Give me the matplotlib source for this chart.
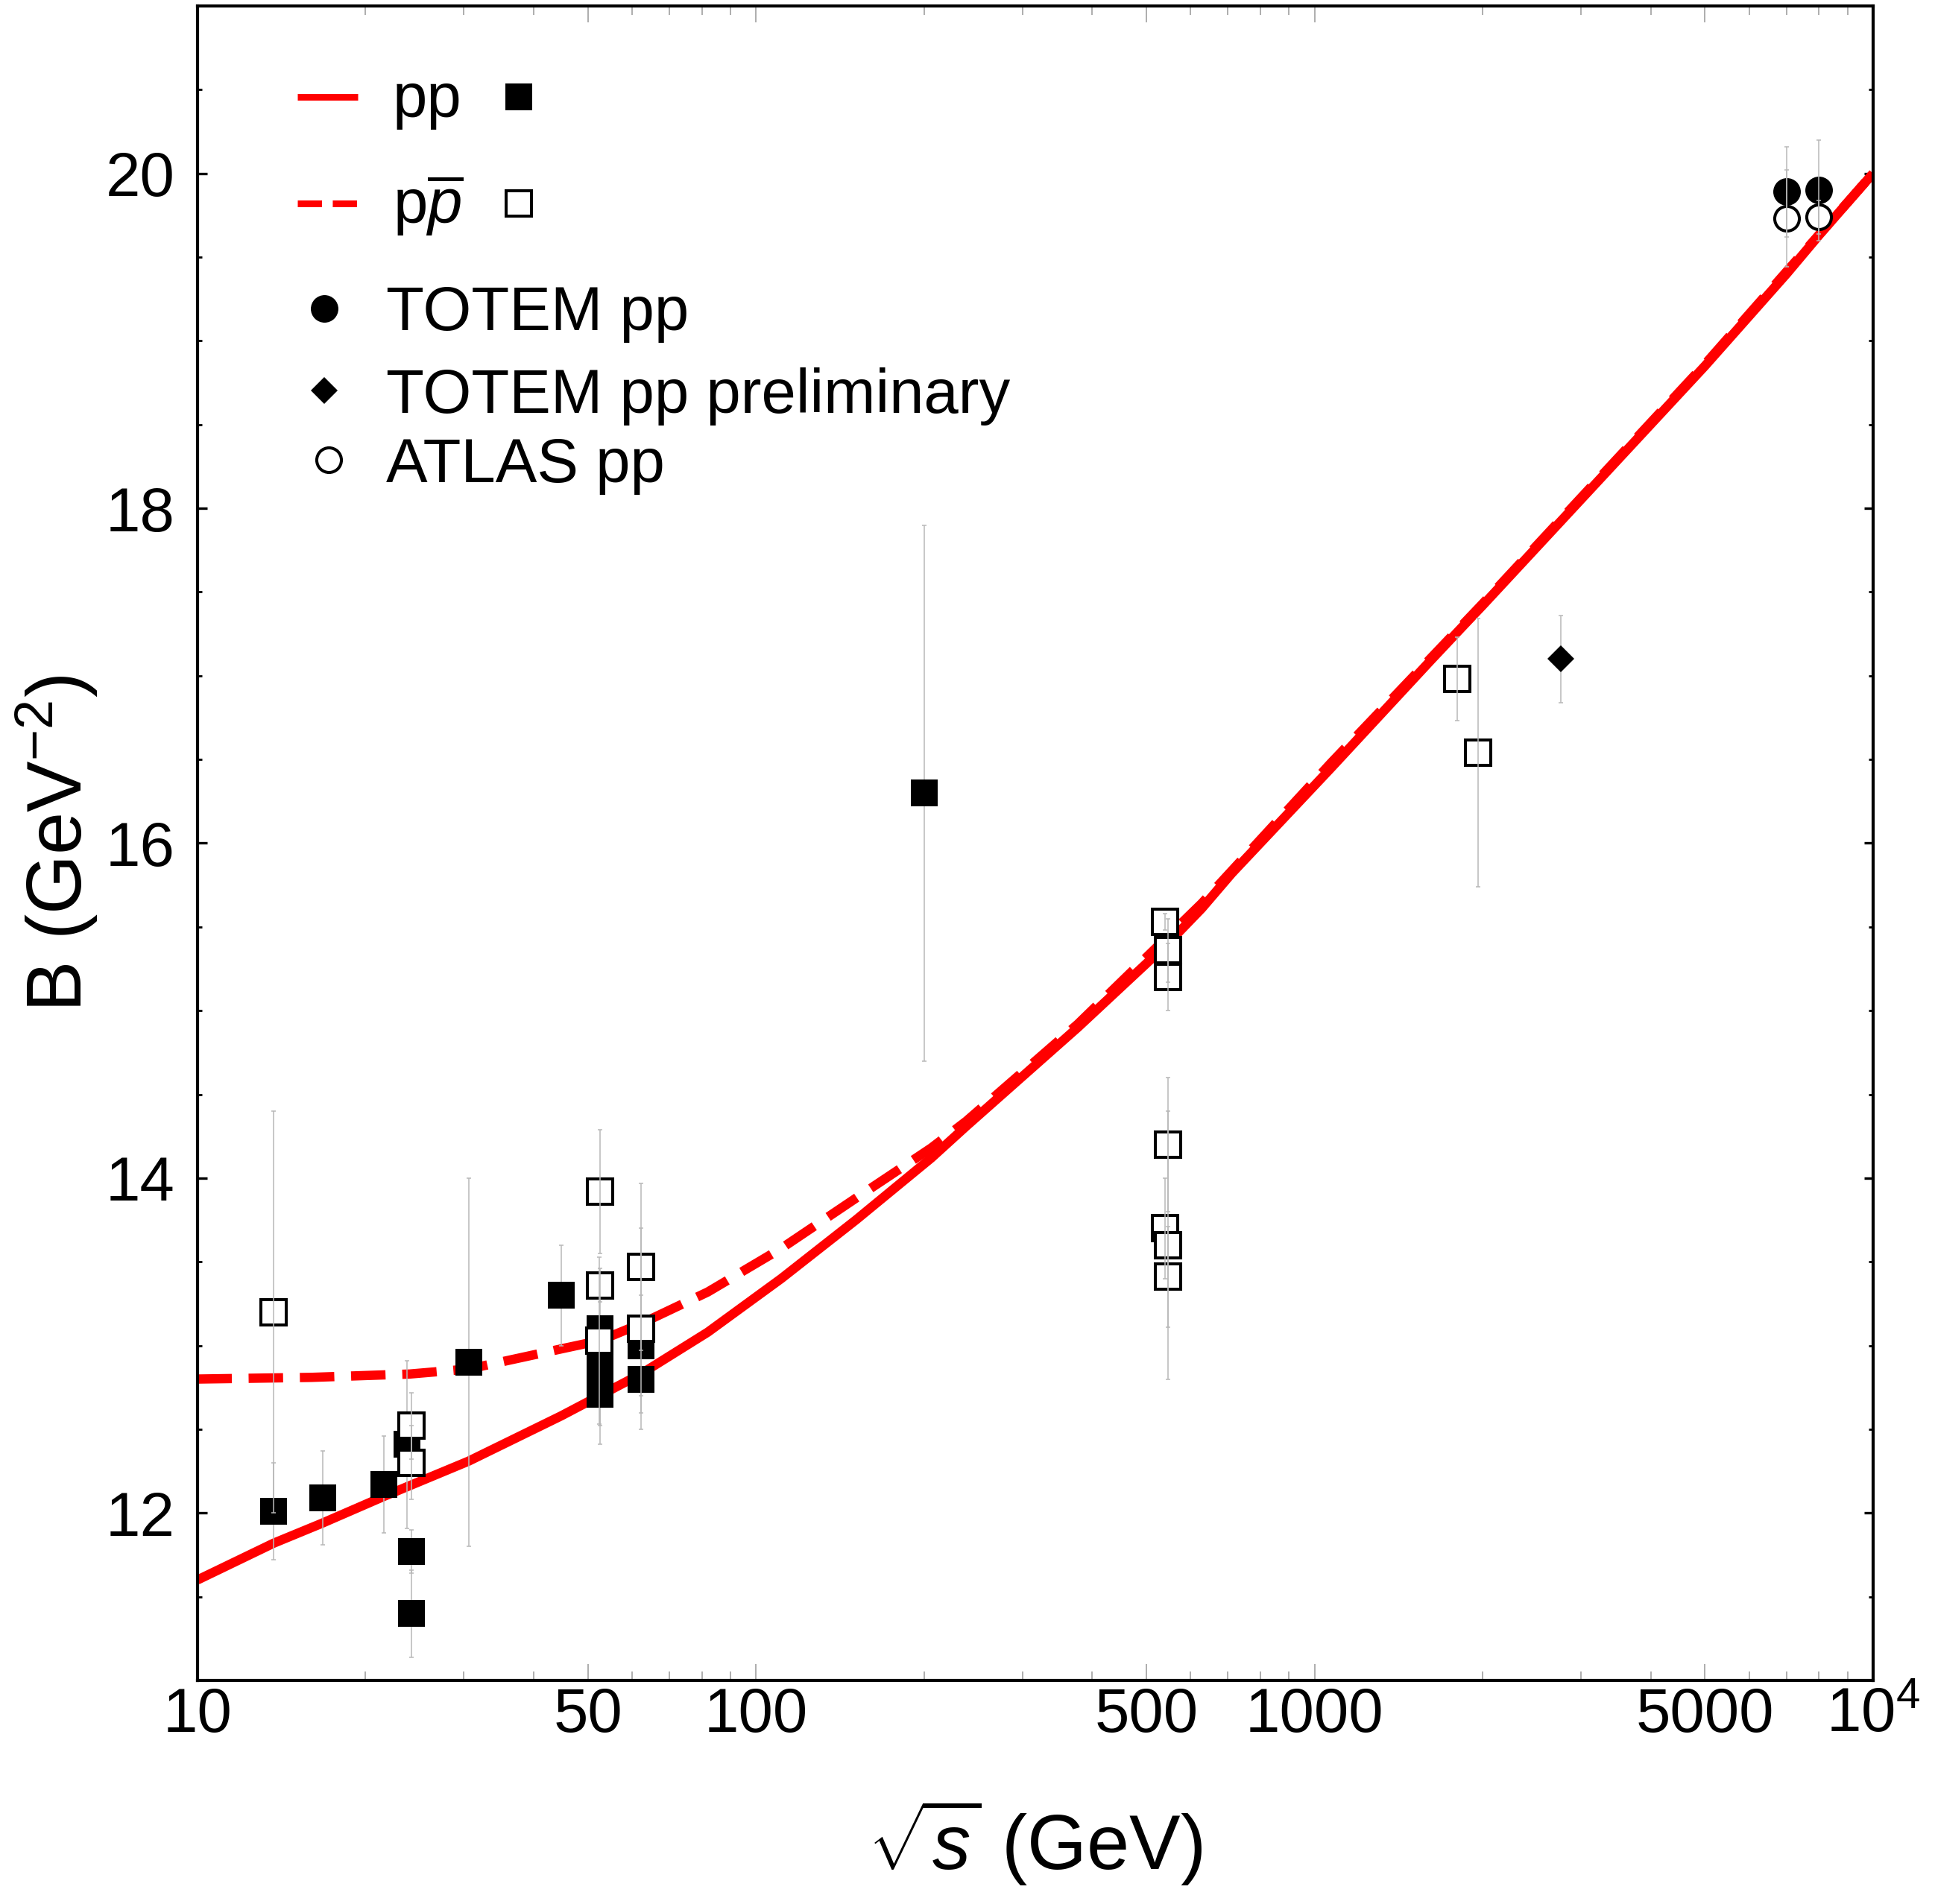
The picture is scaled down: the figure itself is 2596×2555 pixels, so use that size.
import matplotlib
matplotlib.use("Agg")
import matplotlib.pyplot as plt
from matplotlib.ticker import FixedLocator, NullFormatter

plt.rcParams['font.family'] = ['Liberation Sans', 'DejaVu Sans']
plt.rcParams['mathtext.fontset'] = 'custom'
plt.rcParams['mathtext.rm'] = 'Liberation Sans'
plt.rcParams['mathtext.it'] = 'Liberation Sans:italic'
plt.rcParams['mathtext.bf'] = 'Liberation Sans:bold'

# ---------------- data ----------------
# model curves
pp_curve_x = [10, 13.7, 16.75, 21.6, 30.6, 44.8, 62.2, 82, 111, 151, 206, 238, 377,
              546, 628, 711, 1071, 1613, 1861, 2000, 5000, 7000, 8000, 10000]
pp_curve_y = [11.60, 11.82, 11.94, 12.10, 12.31, 12.58, 12.83, 13.08, 13.40, 13.75,
              14.12, 14.31, 14.90, 15.40, 15.61, 15.82, 16.45, 17.09, 17.31, 17.42,
              18.85, 19.40, 19.63, 20.00]
ppbar_curve_x = [10, 16, 24, 30.6, 44.8, 52.6, 62.2, 82, 111, 151, 206, 238, 377,
                 628, 1071, 2000, 5000, 10000]
ppbar_curve_y = [12.80, 12.81, 12.83, 12.86, 12.98, 13.03, 13.13, 13.32, 13.58, 13.88,
                 14.18, 14.34, 14.92, 15.64, 16.48, 17.43, 18.86, 20.00]

# pp data (filled squares)
pp_x = [13.7, 16.75, 21.6, 23.7, 24.2, 24.2, 30.6, 44.8, 52.6, 52.6, 52.6, 52.6,
        62.2, 62.2, 200]
pp_y = [12.01, 12.09, 12.17, 12.41, 11.77, 11.40, 12.90, 13.30, 13.10, 12.93, 12.82,
        12.71, 13.00, 12.80, 16.30]
pp_err = [0.29, 0.28, 0.29, 0.50, 0.13, 0.26, 1.10, 0.30, 0.30, 0.20, 0.30, 0.30,
          0.30, 0.20, 1.60]

# ppbar data (open squares)
ppbar_x = [13.7, 24.2, 24.2, 52.6, 52.6, 52.4, 62.2, 62.2, 540, 546, 546, 546, 540,
           546, 546, 1800, 1960]
ppbar_y = [13.20, 12.52, 12.30, 13.92, 13.36, 13.03, 13.47, 13.10, 15.53, 15.36,
           15.20, 14.20, 13.70, 13.60, 13.41, 16.98, 16.54]
ppbar_err = [1.20, 0.20, 0.22, 0.37, 0.10, 0.50, 0.50, 0.60, 0.05, 0.19, 0.20, 0.40,
             0.30, 0.80, 0.30, 0.25, 0.80]

# TOTEM / ATLAS
totem_x = [7000, 8000]
totem_y = [19.89, 19.90]
totem_err = [0.27, 0.30]
totem_prel_x = [2760]
totem_prel_y = [17.10]
totem_prel_err = [0.26]
atlas_x = [7000, 8000]
atlas_y = [19.73, 19.74]
atlas_err = [0.29, 0.10]

x_ticks = [10, 50, 100, 500, 1000, 5000, 10000]
x_ticklabels = ['10', '50', '100', '500', '1000', '5000', r'$10^4$']
y_ticks = [12, 14, 16, 18, 20]

# ---------------- figure ----------------
fig = plt.figure(figsize=(25.96, 25.55), dpi=100)
ax = fig.add_axes([0.102, 0.1174, 0.866, 0.8795])
ax.set_xscale('log')
ax.set_xlim(10, 10000)
ax.set_ylim(11, 21)

red = '#ff0000'
ax.plot(ppbar_curve_x, ppbar_curve_y, color=red, lw=9, dashes=(3.7, 1.8),
        dash_capstyle='butt', zorder=2)
ax.plot(pp_curve_x, pp_curve_y, color=red, lw=9, solid_capstyle='butt', zorder=2.1)

ecol = '#b8b8b8'
ekw = dict(fmt='none', ecolor=ecol, elinewidth=1.1, capsize=2.5, capthick=1.1)

msq = 26.6
mop = 23.8
mew_o = 2.9

# pp filled squares
ax.errorbar(pp_x, pp_y, yerr=pp_err, zorder=3, **ekw)
ax.plot(pp_x, pp_y, ls='none', marker='s', ms=msq, mfc='black', mec='black', mew=0,
        zorder=4)
# ppbar open squares
ax.plot(ppbar_x, ppbar_y, ls='none', marker='s', ms=mop, mfc='white', mec='black',
        mew=mew_o, zorder=5)
ax.errorbar(ppbar_x, ppbar_y, yerr=ppbar_err, zorder=6, **ekw)

# TOTEM / ATLAS
ax.plot(totem_x, totem_y, ls='none', marker='o', ms=msq, mfc='black', mec='black',
        mew=0, zorder=4)
ax.plot(atlas_x, atlas_y, ls='none', marker='o', ms=mop, mfc='white', mec='black',
        mew=mew_o, zorder=5)
ax.errorbar(totem_x, totem_y, yerr=totem_err, zorder=6, **ekw)
ax.errorbar(atlas_x, atlas_y, yerr=atlas_err, zorder=6, **ekw)
ax.errorbar(totem_prel_x, totem_prel_y, yerr=totem_prel_err, zorder=3, **ekw)
ax.plot(totem_prel_x, totem_prel_y, ls='none', marker='D', ms=18.8, mfc='black',
        mec='black', mew=0, zorder=4)

# ---------------- axes styling ----------------
for sp in ax.spines.values():
    sp.set_linewidth(3)

ax.xaxis.set_major_locator(FixedLocator(x_ticks))
ax.set_xticklabels(x_ticklabels)
minor_x = [v * d for d in (10, 100, 1000) for v in range(2, 10)]
minor_x = [m for m in minor_x if m not in x_ticks]
ax.xaxis.set_minor_locator(FixedLocator(minor_x))
ax.xaxis.set_minor_formatter(NullFormatter())
ax.tick_params(axis='x', which='major', direction='in', length=16, width=1.2,
               color='#a0a0a0', labelsize=60, pad=6, top=True)
ax.tick_params(axis='x', which='minor', direction='in', length=8.6, width=1.2,
               color='#a0a0a0', top=True)

ax.yaxis.set_major_locator(FixedLocator(y_ticks))
ax.yaxis.set_minor_locator(FixedLocator([11.5, 12.5, 13, 13.5, 14.5, 15, 15.5, 16.5,
                                         17, 17.5, 18.5, 19, 19.5, 20.5]))
ax.yaxis.set_minor_formatter(NullFormatter())
ax.tick_params(axis='y', which='major', direction='in', length=9, width=2.4,
               color='black', labelsize=60, pad=22, right=True)
ax.tick_params(axis='y', which='minor', direction='in', length=4.5, width=2.0,
               color='black', right=True)

ax.set_ylabel(r'B (GeV$^{-2}$)', fontsize=74)
ax.yaxis.set_label_coords(-0.058, 0.5)
ax.set_xlabel(r'$\sqrt{s}$ (GeV)', fontsize=74)
ax.xaxis.set_label_coords(0.5, -0.070)

# ---------------- legend (drawn in axes coordinates) ----------------
T = ax.transAxes
fs = 60
ax.plot([0.0596, 0.0956], [0.94571, 0.94571], transform=T, color=red, lw=6.5,
        solid_capstyle='butt', clip_on=False, zorder=7)
ax.text(0.1165, 0.93369, 'pp', transform=T, fontsize=fs, va='baseline', ha='left')
ax.plot([0.1916], [0.94571], transform=T, ls='none', marker='s', ms=msq, mfc='black',
        mec='black', mew=0, clip_on=False)

ax.plot([0.0596, 0.0956], [0.88189, 0.88189], transform=T, color=red, lw=6.5,
        dashes=(3.6, 1.6), dash_capstyle='butt', clip_on=False, zorder=7)
ax.text(0.1165, 0.86983, r'p$\overline{p}$', transform=T, fontsize=fs, va='baseline',
        ha='left')
ax.plot([0.1916], [0.88189], transform=T, ls='none', marker='s', ms=mop, mfc='white',
        mec='black', mew=mew_o, clip_on=False)

ax.plot([0.0756], [0.8194], transform=T, ls='none', marker='o', ms=msq, mfc='black',
        mec='black', mew=0)
ax.text(0.1125, 0.80623, 'TOTEM pp', transform=T, fontsize=fs, va='baseline', ha='left')
ax.plot([0.0756], [0.77018], transform=T, ls='none', marker='D', ms=18.8, mfc='black',
        mec='black', mew=0)
ax.text(0.1125, 0.75701, 'TOTEM pp preliminary', transform=T, fontsize=fs,
        va='baseline', ha='left')
ax.plot([0.0783], [0.72884], transform=T, ls='none', marker='o', ms=mop, mfc='white',
        mec='black', mew=mew_o)
ax.text(0.1125, 0.71562, 'ATLAS pp', transform=T, fontsize=fs, va='baseline', ha='left')

fig.savefig('out.png', dpi=100)
